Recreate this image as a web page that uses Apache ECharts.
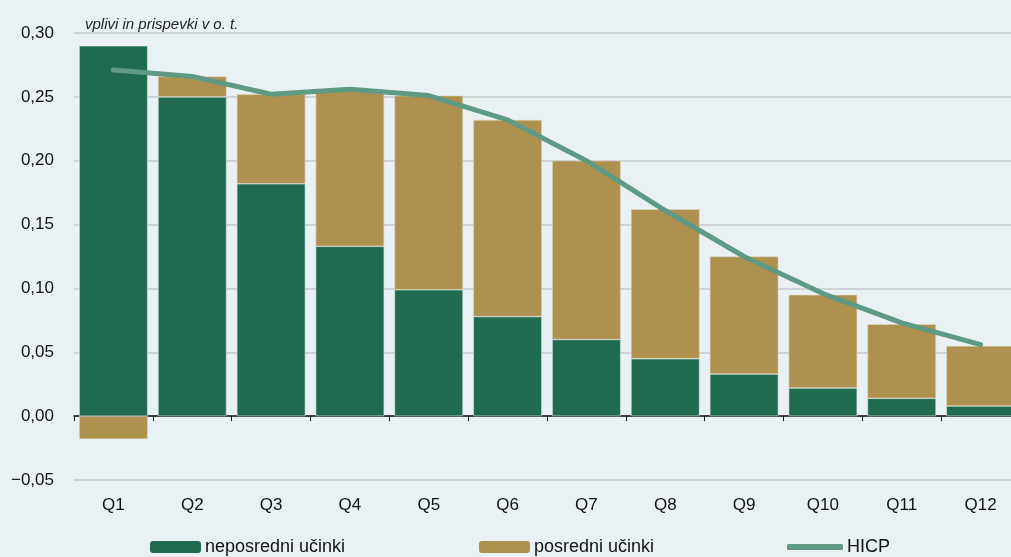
<!DOCTYPE html>
<html>
<head>
<meta charset="utf-8">
<script src="https://cdn.jsdelivr.net/npm/echarts@6/dist/echarts.min.js"></script>
<style>
  html, body { margin: 0; padding: 0; background: #e9f1f5; overflow: hidden; }
  #chart { width: 1020px; height: 557px; }
</style>
</head>
<body>
<div id="chart"></div>
<script>
  // podatki
  var kvartali = ['Q1', 'Q2', 'Q3', 'Q4', 'Q5', 'Q6', 'Q7', 'Q8', 'Q9', 'Q10', 'Q11', 'Q12']
  var neposredni = [0.290, 0.250, 0.182, 0.133, 0.099, 0.078, 0.060, 0.045, 0.033, 0.022, 0.014, 0.008]
  var posredni = [-0.018, 0.016, 0.070, 0.122, 0.152, 0.154, 0.140, 0.117, 0.092, 0.073, 0.058, 0.047]
  var hicp = [0.271, 0.266, 0.252, 0.256, 0.251, 0.232, 0.200, 0.161, 0.125, 0.096, 0.073, 0.056]

  var font = 'Liberation Sans'
  var legendText = { fontFamily: font, fontSize: 18, color: '#111', padding: [0, 0, 0, -1] }
  var myChart = echarts.init(document.getElementById('chart'))
  var option = {
    backgroundColor: '#e9f1f5',
    animation: false,
    title: {
      text: 'vplivi in prispevki v o. t.',
      left: 80, top: 12,
      textStyle: { fontFamily: font, fontSize: 15, fontStyle: 'italic', fontWeight: 'normal', color: '#222' }
    },
    legend: [
      {
        data: ['neposredni učinki'], left: 150, top: 538, padding: 0,
        itemWidth: 51, itemHeight: 12, itemGap: 0,
        itemStyle: { borderWidth: 0 },
        textStyle: legendText
      },
      {
        data: ['posredni učinki'], left: 479, top: 538, padding: 0,
        itemWidth: 51, itemHeight: 12, itemGap: 0,
        itemStyle: { borderWidth: 0 },
        textStyle: legendText
      },
      {
        data: [{ name: 'HICP', icon: 'roundRect' }], left: 787, top: 538, padding: 0,
        itemWidth: 56, itemHeight: 6, itemGap: 0,
        itemStyle: { borderWidth: 0 },
        textStyle: legendText
      }
    ],
    grid: { left: 74, right: 0, top: 33, bottom: 77, containLabel: false },
    xAxis: [
      {
        type: 'category', data: kvartali,
        axisLine: { onZero: true, lineStyle: { color: '#111', width: 1.5 } },
        axisTick: { show: true, inside: false, length: 5, lineStyle: { color: '#111' } },
        axisLabel: { show: false }
      },
      {
        type: 'category', data: kvartali, position: 'bottom',
        axisLine: { show: false, onZero: false },
        axisTick: { show: false },
        axisLabel: { fontFamily: font, fontSize: 17, color: '#111', margin: 17 }
      }
    ],
    yAxis: {
      type: 'value', min: -0.05, max: 0.30, interval: 0.05,
      axisLine: { show: false },
      axisTick: { show: false },
      splitLine: { lineStyle: { color: '#c6c9cc', width: 1.5 } },
      axisLabel: {
        fontFamily: font, fontSize: 17, color: '#111', margin: 20,
        formatter: function (v) {
          return v.toFixed(2).replace('.', ',').replace('-', '\u2212')
        }
      }
    },
    series: [
      {
        name: 'neposredni učinki', type: 'bar', stack: 'a', xAxisIndex: 0,
        barCategoryGap: '13%',
        itemStyle: { color: '#1f6b50', borderColor: '#d9e3df', borderWidth: 0.6 },
        data: neposredni
      },
      {
        name: 'posredni učinki', type: 'bar', stack: 'a', xAxisIndex: 0,
        barCategoryGap: '13%',
        itemStyle: { color: '#ae914e', borderColor: '#dcd6c4', borderWidth: 0.6 },
        data: posredni
      },
      {
        name: 'HICP', type: 'line', xAxisIndex: 0,
        symbol: 'none', smooth: false,
        lineStyle: { color: '#5e9a84', width: 5, cap: 'round', join: 'round' },
        itemStyle: { color: '#5e9a84' },
        z: 5,
        data: hicp
      }
    ]
  }
  myChart.setOption(option)
</script>
</body>
</html>
